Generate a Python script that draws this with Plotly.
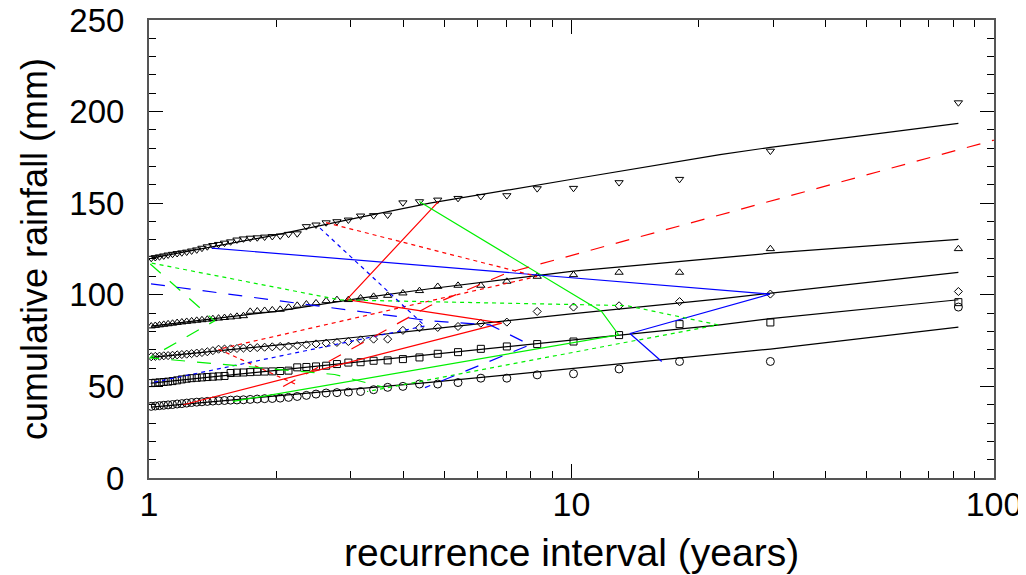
import plotly.graph_objects as go

# recurrence intervals (years) of ranked values, rank 1..46
T = [82.36, 29.56, 18.02, 12.96, 10.11, 8.295, 7.030, 6.101, 5.388, 4.824,
     4.367, 3.990, 3.672, 3.401, 3.168, 2.964, 2.785, 2.626, 2.485, 2.358,
     2.243, 2.139, 2.044, 1.958, 1.878, 1.804, 1.736, 1.673, 1.615, 1.560,
     1.509, 1.461, 1.4165, 1.374, 1.3345, 1.297, 1.2615, 1.228, 1.196, 1.1658,
     1.137, 1.1097, 1.0836, 1.0588, 1.035, 1.0123]

circ = [93.3, 63.6, 63.6, 59.5, 56.9, 56.3, 54.5, 54.5, 52.1, 51.3,
        51.3, 50.0, 49.5, 48.2, 47.2, 46.9, 46.6, 46.4, 45.8, 45.1,
        44.5, 44.0, 43.6, 43.4, 43.3, 43.1, 42.9, 42.7, 42.6, 42.5,
        42.3, 42.2, 42.0, 41.8, 41.6, 41.4, 41.2, 40.9, 40.6, 40.4,
        40.1, 39.9, 39.7, 39.5, 39.3, 39.1]
squa = [96.0, 84.9, 84.0, 78.0, 74.5, 73.1, 71.8, 70.5, 68.7, 67.8,
        65.8, 64.9, 64.2, 64.0, 63.2, 63.0, 62.2, 61.3, 60.9, 60.6,
        60.4, 58.6, 58.4, 58.2, 58.1, 58.0, 57.8, 57.6, 57.5, 57.3,
        55.7, 55.5, 55.3, 55.1, 54.9, 54.7, 54.5, 54.2, 53.8, 53.3,
        52.9, 52.6, 52.4, 52.2, 52.0, 51.8]
diam = [101.8, 100.4, 96.3, 94.0, 93.3, 90.9, 85.1, 84.5, 82.7, 82.2,
        82.0, 80.6, 75.8, 75.8, 75.4, 74.5, 74.0, 73.6, 73.2, 72.7,
        72.3, 72.0, 71.8, 71.6, 71.4, 71.2, 71.0, 70.9, 70.7, 70.5,
        70.4, 70.3, 69.5, 68.9, 68.5, 68.2, 67.9, 67.6, 67.4, 67.2,
        67.0, 66.8, 66.7, 66.5, 66.4, 66.2]
tup = [125.1, 125.1, 112.2, 112.2, 110.9, 110.0, 107.3, 105.1, 105.1, 104.5,
       102.2, 100.9, 99.6, 99.1, 98.2, 97.3, 97.3, 96.7, 95.5, 94.9,
       94.2, 93.1, 92.0, 91.7, 91.4, 91.1, 90.9, 88.5, 88.2, 87.8,
       87.5, 87.2, 86.9, 86.6, 86.3, 86.0, 85.7, 85.4, 85.1, 84.8,
       84.4, 84.1, 83.8, 83.5, 83.2, 82.9]
tdn = [204.9, 178.5, 163.1, 161.3, 158.2, 158.0, 154.2, 153.8, 152.7, 151.8,
       150.9, 150.3, 143.6, 143.3, 143.1, 140.9, 140.0, 139.4, 138.2, 137.3,
       133.4, 133.1, 132.2, 131.9, 131.6, 131.2, 131.0, 130.6, 130.0, 129.0,
       128.3, 127.6, 127.0, 126.3, 125.5, 124.6, 124.0, 123.4, 123.0, 122.6,
       122.2, 121.8, 121.3, 120.8, 120.4, 120.0]

# fitted curves
fitT = [1.012, 2.0, 3.17, 4.62, 10.11, 22.46, 29.56, 82.36]
fit_circ = [38.7, 44.6, 48.7, 52.2, 59.8, 67.5, 70.4, 82.4]
fit_squa = [51.8, 58.7, 63.4, 67.3, 75.3, 83.6, 87.0, 97.3]
fit_diam = [65.8, 72.6, 77.1, 81.3, 89.7, 97.8, 100.9, 112.2]
fit_tup = [82.9, 91.0, 98.2, 103.3, 112.9, 120.2, 122.7, 130.2]
fit_tdn = [120.0, 132.7, 142.4, 150.0, 163.2, 176.5, 180.5, 193.6]

# coloured event traces (recurrence interval, rainfall)
red_solid_T = [1.206, 6.84, 2.938, 4.84]
red_solid_v = [40.0, 84.5, 97.4, 150.9]
green_solid_T = [4.36, 11.78, 12.93, 1.58]
green_solid_v = [150.9, 90.9, 78.2, 41.8]
blue_solid_T = [1.407, 29.5, 13.75, 16.35]
blue_solid_v = [125.5, 100.4, 78.9, 63.6]
red_dot_T = [2.625, 8.28, 1.461, 2.236]
red_dot_v = [139.4, 110.0, 70.3, 50.9]
green_dot_T = [1.0148, 2.833, 13.51, 22.22, 3.281]
green_dot_v = [117.3, 97.2, 94.1, 83.6, 47.2]
blue_dot_T = [2.54, 4.5, 1.005]
blue_dot_v = [136.4, 83.0, 51.8]
red_dash_T = [2.077, 4.62, 7.02, 300.0]
red_dash_v = [49.9, 94.0, 111.8, 214.5]
green_dash_T = [1.007, 1.43, 1.004, 2.75, 3.6]
green_dash_v = [116.8, 85.8, 65.6, 56.5, 49.5]
blue_dash_T = [1.011, 4.624, 6.413, 7.975, 4.5]
blue_dash_v = [106.0, 85.8, 83.6, 72.7, 49.3]

fig = go.Figure()

for v, f, sym, sz in [(circ, fit_circ, "circle-open", 8), (squa, fit_squa, "square-open", 7),
                      (diam, fit_diam, "diamond-open", 6.2),
                      (tup, fit_tup, "triangle-up-open", 7.2),
                      (tdn, fit_tdn, "triangle-down-open", 7.2)]:
    fig.add_trace(go.Scatter(x=fitT, y=f, mode="lines",
                             line=dict(color="black", width=1.2), hoverinfo="skip"))
    fig.add_trace(go.Scatter(x=T, y=v, mode="markers",
                             marker=dict(symbol=sym, size=sz, color="black",
                                         line=dict(color="black", width=1))))

RED, GREEN, BLUE = "#ff0000", "#00f000", "#0000ff"
DOT, DASH = "4px,4px", "14px,12px"
for tx, ty, col, dash in [
        (red_solid_T, red_solid_v, RED, "solid"),
        (green_solid_T, green_solid_v, GREEN, "solid"),
        (blue_solid_T, blue_solid_v, BLUE, "solid"),
        (red_dot_T, red_dot_v, RED, DOT),
        (green_dot_T, green_dot_v, GREEN, DOT),
        (blue_dot_T, blue_dot_v, BLUE, DOT),
        (red_dash_T, red_dash_v, RED, DASH),
        (green_dash_T, green_dash_v, GREEN, DASH),
        (blue_dash_T, blue_dash_v, BLUE, DASH)]:
    fig.add_trace(go.Scatter(x=tx, y=ty, mode="lines", cliponaxis=True,
                             line=dict(color=col, width=1.2, dash=dash)))

# page body has an 8px margin, so the figure is shrunk by that amount
fig.update_layout(
    width=1018, height=567,
    margin=dict(l=141, r=32, t=12, b=97),
    paper_bgcolor="white", plot_bgcolor="white",
    showlegend=False,
    font=dict(family="Liberation Sans, Arial, sans-serif", color="black"),
    annotations=[
        dict(text="recurrence interval (years)", x=0.5, xref="paper", y=0, yref="paper",
             xanchor="center", yanchor="middle", yshift=-74, showarrow=False,
             font=dict(size=39)),
        dict(text="cumulative rainfall (mm)", x=0, xref="paper", y=0.5, yref="paper",
             xanchor="center", yanchor="middle", xshift=-115, textangle=-90,
             showarrow=False, font=dict(size=36)),
    ],
)
fig.update_xaxes(type="log", range=[0, 2], automargin=False,
                 tickmode="array", tickvals=[1, 10, 100], ticktext=["1", "10", "100"],
                 ticks="inside", ticklen=14, tickcolor="black", ticklabelstandoff=-5,
                 ticklabeloverflow="allow",
                 minor=dict(ticks="inside", ticklen=7, tickcolor="black",
                            tickmode="array",
                            tickvals=[2, 3, 4, 5, 6, 7, 8, 9, 20, 30, 40, 50, 60, 70, 80, 90]),
                 showline=True, linecolor="#555", linewidth=2, mirror="allticks",
                 showgrid=False, zeroline=False,
                 tickfont=dict(size=34))
fig.update_yaxes(range=[0, 250], dtick=50, tick0=0, automargin=False,
                 ticks="inside", ticklen=14, tickcolor="black", ticklabelstandoff=16,
                 ticklabeloverflow="allow",
                 minor=dict(ticks="inside", ticklen=7, dtick=10, tickcolor="black"),
                 showline=True, linecolor="#555", linewidth=2, mirror="allticks",
                 showgrid=False, zeroline=False,
                 tickfont=dict(size=33))

fig.write_html("out.html")
